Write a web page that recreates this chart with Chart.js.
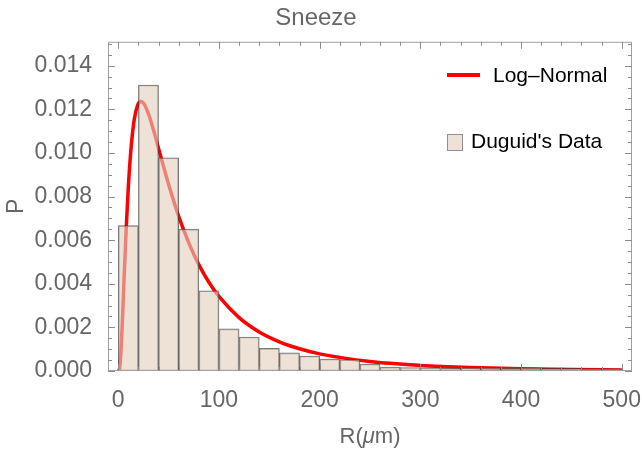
<!DOCTYPE html>
<html><head><meta charset="utf-8">
<script src="https://cdn.jsdelivr.net/npm/chart.js@4.4.1/dist/chart.umd.min.js"></script>
<style>html,body{margin:0;padding:0;background:#fff}#wrap{position:relative;width:642px;height:459px}</style>
</head><body><div id="wrap"><canvas id="c"></canvas></div>
<script>
// Histogram bins (centres, um) and Duguid's data (probability density)
const binCenters = [10,30,50,70,90,110,130,150,170,190,210,230,250,270,290,310,330,350,370,390,410,430,450,470,490];
const duguidData = [0.00667,0.01312,0.00978,0.00651,0.00368,0.00193,0.00156,0.00104,0.00083,0.00069,0.00055,0.00052,0.00032,0.00018,0.00016,0.00015,0.00013,0.00015,0.00014,0.00013,0.00015,0.00012,0.00012,0.00010,0.00010];
// Log-normal curve points
const curveR = [0,1,2,3,4,5,6,8,10,12,14,16,19,22,25,30,35,40,45,50,60,70,80,90,100,120,140,160,180,200,250,300,350,400,450,500];
const curveP = [0,0.00005,0.00042,0.00118,0.0022,0.00334,0.0045,0.00665,0.00846,0.00983,0.01085,0.01157,0.01216,0.01236,0.01229,0.01179,0.01105,0.01021,0.00937,0.00855,0.00709,0.00588,0.00488,0.00407,0.00342,0.00245,0.00179,0.00134,0.00102,0.000785,0.000434,0.000256,0.000159,0.000103,0.000069,0.000048];
const xTickLabels = [0,100,200,300,400,500];
const yTickLabels = [0,0.002,0.004,0.006,0.008,0.010,0.012,0.014];
const xMinorStep = 20, yMinorStep = 0.0005;

const FONT = "'Liberation Sans', Arial, sans-serif";
const GRAY = '#666666';
const BAR_FILL = 'rgba(228,208,190,0.62)';
const BAR_EDGE = 'rgba(60,60,60,0.7)';

const framePlugin = {
  id: 'frameTicks',
  afterDraw(chart) {
    const {ctx, chartArea: a, scales: {x, y}} = chart;
    ctx.save();
    ctx.strokeStyle = '#a0a0a0';
    ctx.lineWidth = 1;
    ctx.strokeRect(a.left + 0.5, a.top + 0.5, a.right - a.left - 1, a.bottom - a.top - 1);
    ctx.strokeStyle = '#8c8c8c';
    ctx.beginPath();
    for (let v = 0; v <= 500 + 1e-9; v += xMinorStep) {
      const px = Math.round(x.getPixelForValue(v)) + 0.5;
      const len = (Math.abs(v % 100) < 1e-9) ? 7 : 4;
      ctx.moveTo(px, a.bottom); ctx.lineTo(px, a.bottom - len);
      ctx.moveTo(px, a.top); ctx.lineTo(px, a.top + len);
    }
    for (let i = 0; i <= 30; i++) {
      const v = i * yMinorStep;
      const py = Math.round(y.getPixelForValue(v)) + 0.5;
      if (py < a.top + 2) continue;
      const len = (i % 4 === 0) ? 7 : 4;
      ctx.moveTo(a.left, py); ctx.lineTo(a.left + len, py);
      ctx.moveTo(a.right, py); ctx.lineTo(a.right - len, py);
    }
    ctx.stroke();

    // x-axis title with italic mu
    ctx.fillStyle = GRAY;
    ctx.textBaseline = 'middle';
    const cx = (a.left + a.right) / 2, ty = 437;
    const parts = [['R(', 'normal'], ['\u03bc', 'italic'], ['m)', 'normal']];
    let total = 0;
    parts.forEach(p => { ctx.font = p[1] + ' 22px ' + FONT; total += ctx.measureText(p[0]).width; });
    let tx = cx - total / 2;
    ctx.textAlign = 'left';
    parts.forEach(p => { ctx.font = p[1] + ' 22px ' + FONT; ctx.fillText(p[0], tx, ty); tx += ctx.measureText(p[0]).width; });

    // legend
    ctx.strokeStyle = '#ff0000';
    ctx.lineWidth = 4;
    ctx.beginPath(); ctx.moveTo(447, 75); ctx.lineTo(480, 75); ctx.stroke();
    ctx.font = '21px ' + FONT;
    ctx.fillStyle = '#000';
    ctx.fillText('Log\u2013Normal', 493, 76);
    ctx.fillStyle = BAR_FILL;
    ctx.fillRect(447.5, 134.5, 15, 16);
    ctx.strokeStyle = 'rgba(120,120,120,0.8)';
    ctx.lineWidth = 1;
    ctx.strokeRect(447.5, 134.5, 15, 16);
    ctx.fillStyle = '#000';
    ctx.fillText("Duguid's Data", 471, 142);
    ctx.restore();
  }
};

new Chart(document.getElementById('c'), {
  type: 'bar',
  data: {
    datasets: [
      {
        type: 'bar',
        label: "Duguid's Data",
        data: binCenters.map((c, i) => ({x: c, y: duguidData[i]})),
        backgroundColor: BAR_FILL,
        borderColor: BAR_EDGE,
        borderWidth: 1,
        borderSkipped: false,
        barPercentage: 1,
        categoryPercentage: 1,
        order: 0
      },
      {
        type: 'line',
        label: 'Log-Normal',
        data: curveR.map((r, i) => ({x: r, y: curveP[i]})),
        borderColor: '#ff0000',
        borderWidth: 3.5,
        pointRadius: 0,
        fill: false,
        cubicInterpolationMode: 'monotone',
        order: 1
      }
    ]
  },
  options: {
    responsive: true,
    maintainAspectRatio: false,
    animation: false,
    layout: {padding: {left: 0, right: 10, top: 0, bottom: 0}},
    plugins: {
      legend: {display: false},
      tooltip: {enabled: false},
      title: {display: true, text: 'Sneeze', color: GRAY, font: {family: FONT, size: 24, weight: 'normal'}, padding: {top: 4, bottom: 9}}
    },
    scales: {
      x: {
        type: 'linear', min: -10.2, max: 510.2, offset: false,
        grid: {display: false}, border: {display: false},
        afterBuildTicks: s => { s.ticks = xTickLabels.map(v => ({value: v})); },
        afterFit: s => { s.height = 88; s.paddingLeft = 0; s.paddingRight = 0; },
        ticks: {color: GRAY, font: {family: FONT, size: 23}, padding: 8, maxRotation: 0, autoSkip: false},
      },
      y: {
        type: 'linear', min: 0, max: 0.0151,
        grid: {display: false}, border: {display: false},
        afterBuildTicks: s => { s.ticks = yTickLabels.map(v => ({value: v})); },
        afterFit: s => { s.width = 108; s.paddingTop = 0; s.paddingBottom = 0; },
        ticks: {color: GRAY, font: {family: FONT, size: 23}, padding: 8, callback: v => v.toFixed(3)},
        title: {display: true, text: 'P', color: GRAY, font: {family: FONT, size: 23}, padding: {top: 3, bottom: 0}}
      }
    }
  },
  plugins: [framePlugin]
});
</script></body></html>
